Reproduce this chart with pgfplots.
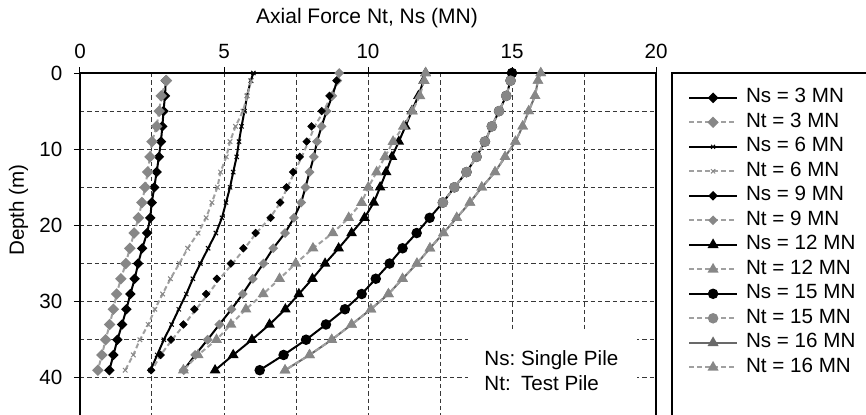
\documentclass[border=0pt]{standalone}
\usepackage{fontspec}
\setmainfont{Liberation Sans}
\usepackage{pgfplots}
\pgfplotsset{compat=1.18}
\definecolor{mkgray}{RGB}{135,135,135}
\definecolor{lngray}{RGB}{160,160,160}
\definecolor{dkgray}{RGB}{105,105,105}
\definecolor{gridc}{RGB}{55,55,55}
\newcommand{\fs}{\fontsize{10.3pt}{12pt}\selectfont}
\begin{document}
\begin{tikzpicture}
\begin{axis}[
  at={(0pt,0pt)}, anchor=north west,
  scale only axis, width=288pt, height=173.355pt,
  xmin=0, xmax=20, ymin=0, ymax=45.5, y dir=reverse,
  xtick={0,5,10,15,20}, ytick={0,10,20,30,40},
  minor xtick={2.5,7.5,12.5,17.5}, minor ytick={5,15,25,35},
  grid=both,
  major grid style={gridc, line width=0.5pt, dash pattern=on 2.2pt off 1.5pt},
  minor grid style={gridc, line width=0.5pt, dash pattern=on 2.2pt off 1.5pt},
  xtick pos=right, ytick pos=left, xticklabel pos=right,
  tick align=outside, major tick length=3pt, minor tick length=0pt,
  tick style={black, line width=0.5pt},
  axis line style={black, line width=0.6pt},
  /pgf/number format/assume math mode=true,
  tick label style={font=\fs},
  xticklabel style={yshift=0.5pt},
  yticklabel style={xshift=-2.3pt},
  clip mode=individual,
  legend cell align=left,
  legend style={draw=none, fill=none, inner sep=0pt, font=\fs,
    at={(axis description cs:1.055,0.965)}, anchor=north west,
    nodes={inner xsep=2.5pt, inner ysep=0pt, text height=8.5pt, text depth=3.75pt},
    /tikz/every odd column/.append style={column sep=1.5pt},
    row sep=0pt},
  legend image code/.code={\draw[mark repeat=2,mark phase=2,#1] plot coordinates {(0pt,0pt)(12pt,0pt)(24pt,0pt)};},
]
% legend images
\addlegendimage{black, line width=1pt, mark=square*, mark size=1.4pt, mark options={rotate=45, solid, fill=black}}
\addlegendentry{Ns = 3 MN}
\addlegendimage{lngray, line width=1pt, dash pattern=on 2.5pt off 1.5pt, mark=square*, mark size=1.5pt, mark options={rotate=45, solid, fill=mkgray, draw=mkgray}}
\addlegendentry{Nt = 3 MN}
\addlegendimage{black, line width=1pt, mark=x, mark size=1.4pt, mark options={solid, line width=0.5pt}}
\addlegendentry{Ns = 6 MN}
\addlegendimage{lngray, line width=1pt, dash pattern=on 2.5pt off 1.5pt, mark=x, mark size=1.5pt, mark options={solid, line width=0.5pt, draw=mkgray}}
\addlegendentry{Nt = 6 MN}
\addlegendimage{black, line width=1pt, mark=square*, mark size=1.2pt, mark options={rotate=45, solid, fill=black}}
\addlegendentry{Ns = 9 MN}
\addlegendimage{lngray, line width=1pt, dash pattern=on 2.5pt off 1.5pt, mark=square*, mark size=1.2pt, mark options={rotate=45, solid, fill=mkgray, draw=mkgray}}
\addlegendentry{Nt = 9 MN}
\addlegendimage{black, line width=1pt, mark=triangle*, mark size=2.2pt, mark options={solid, fill=black}}
\addlegendentry{Ns = 12 MN}
\addlegendimage{lngray, line width=1pt, dash pattern=on 2.5pt off 1.5pt, mark=triangle*, mark size=2.2pt, mark options={solid, fill=mkgray, draw=mkgray}}
\addlegendentry{Nt = 12 MN}
\addlegendimage{black, line width=1pt, mark=*, mark size=2.1pt, mark options={solid, fill=black}}
\addlegendentry{Ns = 15 MN}
\addlegendimage{lngray, line width=1pt, dash pattern=on 2.5pt off 1.5pt, mark=*, mark size=2.1pt, mark options={solid, fill=mkgray, draw=mkgray}}
\addlegendentry{Nt = 15 MN}
\addlegendimage{dkgray, line width=1pt, mark=triangle*, mark size=2.2pt, mark options={solid, fill=dkgray}}
\addlegendentry{Ns = 16 MN}
\addlegendimage{lngray, line width=1pt, dash pattern=on 2.5pt off 1.5pt, mark=triangle*, mark size=2.2pt, mark options={solid, fill=mkgray, draw=mkgray}}
\addlegendentry{Nt = 16 MN}

% Ns = 3
\addplot[forget plot, black, line width=1pt, mark=square*, mark size=1.35pt, mark options={rotate=45, solid, fill=black}] coordinates {
(2.98,1)(2.95,3)(2.90,5)(2.86,7)(2.81,9)(2.74,11)(2.66,13)(2.58,15)(2.49,17)(2.44,19)(2.33,21)(2.16,23)(2.02,25)(1.90,27)(1.75,29)(1.61,31)(1.46,33)(1.30,35)(1.16,37)(1.02,39)};
% Nt = 3
\addplot[forget plot, lngray, line width=1pt, dash pattern=on 2.5pt off 1.5pt, mark=square*, mark size=1.55pt, mark options={rotate=45, solid, fill=mkgray, draw=mkgray}] coordinates {
(3.00,1)(2.82,3)(2.75,5)(2.66,7)(2.50,9)(2.43,11)(2.35,13)(2.26,15)(2.15,17)(2.03,19)(1.88,21)(1.73,23)(1.59,25)(1.42,27)(1.27,29)(1.16,31)(1.03,33)(0.89,35)(0.76,37)(0.62,39)};
% Ns = 6
\addplot[forget plot, black, line width=1pt, mark=x, mark size=1.5pt, mark options={solid, line width=0.5pt}] coordinates {
(6.02,0)(5.93,1)(5.80,3)(5.71,5)(5.61,7)(5.52,9)(5.44,11)(5.32,13)(5.21,15)(5.07,17)(4.93,19)(4.72,21)(4.45,23)(4.18,25)(3.92,27)(3.69,29)(3.43,31)(3.18,33)(2.91,35)(2.68,37)(2.45,39)};
% Nt = 6
\addplot[forget plot, lngray, line width=1pt, dash pattern=on 2.5pt off 1.5pt, mark=x, mark size=1.6pt, mark options={solid, line width=0.5pt, draw=mkgray}] coordinates {
(5.95,1)(5.80,3)(5.66,5)(5.40,7)(5.21,9)(5.08,11)(4.88,13)(4.77,15)(4.58,17)(4.38,19)(4.10,21)(3.74,23)(3.45,25)(3.14,27)(2.87,29)(2.60,31)(2.37,33)(2.08,35)(1.85,37)(1.57,39)};
% 9 MN: gray dashed line
\addplot[forget plot, lngray, line width=1pt, dash pattern=on 2.5pt off 1.5pt] coordinates {
(9.00,0)(8.95,1)(8.72,3)(8.46,5)(8.15,7)(7.93,9)(7.70,11)(7.45,13)(7.20,15)(6.96,17)(6.60,19)(6.12,21)(5.72,23)(5.30,25)(4.85,27)(4.45,29)(4.03,31)(3.62,33)(3.20,35)(2.80,37)(2.50,39)};
% 9 MN: black line with gray diamonds
\addplot[forget plot, black, line width=1pt, mark=square*, mark size=1.25pt, mark options={rotate=45, solid, fill=mkgray, draw=mkgray}] coordinates {
(9.00,0)(8.93,1)(8.76,3)(8.56,5)(8.39,7)(8.23,9)(8.12,11)(7.97,13)(7.83,15)(7.68,17)(7.43,19)(7.12,21)(6.71,23)(6.37,25)(6.00,27)(5.65,29)(5.26,31)(4.84,33)(4.43,35)(4.00,37)(3.60,39)};
% 9 MN: black diamonds
\addplot[forget plot, only marks, black, mark=square*, mark size=1.3pt, mark options={rotate=45, solid, fill=black}] coordinates {
(8.91,1)(8.66,3)(8.39,5)(8.04,7)(7.87,9)(7.63,11)(7.40,13)(7.17,15)(6.95,17)(6.62,19)(6.10,21)(5.67,23)(5.24,25)(4.75,27)(4.38,29)(3.97,31)(3.59,33)(3.16,35)(2.80,37)(2.47,39)};
% Ns = 12
\addplot[forget plot, black, line width=1pt, mark=triangle*, mark size=2.1pt, mark options={solid, fill=black}] coordinates {
(12.00,0)(11.93,1)(11.75,3)(11.52,5)(11.30,7)(11.07,9)(10.83,11)(10.63,13)(10.42,15)(10.20,17)(9.88,19)(9.43,21)(8.98,23)(8.51,25)(8.07,27)(7.60,29)(7.13,31)(6.58,33)(5.97,35)(5.32,37)(4.69,39)};
% Nt = 12
\addplot[forget plot, lngray, line width=1pt, dash pattern=on 2.5pt off 1.5pt, mark=triangle*, mark size=2.2pt, mark options={solid, fill=mkgray, draw=mkgray}] coordinates {
(12.00,0)(11.95,1)(11.80,3)(11.54,5)(11.23,7)(10.87,9)(10.59,11)(10.30,13)(10.01,15)(9.78,17)(9.33,19)(8.78,21)(8.09,23)(7.49,25)(6.93,27)(6.36,29)(5.76,31)(5.24,33)(4.74,35)(4.10,37)(3.59,39)};
% Ns = 15
\addplot[forget plot, black, line width=1pt, mark=*, mark size=2.1pt, mark options={solid, fill=black}] coordinates {
(15.00,0)(14.95,1)(14.80,3)(14.55,5)(14.30,7)(14.06,9)(13.77,11)(13.42,13)(13.00,15)(12.60,17)(12.14,19)(11.69,21)(11.20,23)(10.75,25)(10.27,27)(9.78,29)(9.20,31)(8.54,33)(7.85,35)(7.07,37)(6.24,39)};
% Nt = 15
\addplot[forget plot, lngray, line width=1pt, dash pattern=on 2.5pt off 1.5pt, mark=*, mark size=2.1pt, mark options={solid, fill=mkgray, draw=mkgray}] coordinates {
(14.95,1)(14.80,3)(14.55,5)(14.30,7)(14.06,9)(13.77,11)(13.42,13)(13.00,15)(12.60,17)};
% Ns = 16
\addplot[forget plot, dkgray, line width=1pt, mark=triangle*, mark size=2.1pt, mark options={solid, fill=mkgray, draw=mkgray}] coordinates {
(16.00,0)(15.90,1)(15.80,3)(15.58,5)(15.37,7)(15.12,9)(14.76,11)(14.41,13)(13.95,15)(13.54,17)(13.08,19)(12.62,21)(12.15,23)(11.70,25)(11.20,27)(10.71,29)(10.10,31)(9.43,33)(8.74,35)(7.97,37)(7.12,39)};
% Nt = 16
\addplot[forget plot, lngray, line width=1pt, dash pattern=on 2.5pt off 1.5pt, mark=triangle*, mark size=2.1pt, mark options={solid, fill=mkgray, draw=mkgray}] coordinates {
(16.00,0)(15.90,1)(15.80,3)(15.58,5)(15.37,7)(15.12,9)(14.76,11)(14.41,13)(13.95,15)(13.54,17)(13.08,19)(12.62,21)(12.15,23)(11.70,25)(11.20,27)(10.71,29)(10.10,31)(9.43,33)(8.74,35)(7.97,37)(7.12,39)};
\end{axis}
% white note box
\fill[white] (194pt,-128.5pt) rectangle (278.5pt,-180pt);
\node[anchor=base west, inner sep=0pt, font=\fs] at (202pt,-146pt)
  {\begin{tabular}[t]{@{}l@{\ }l@{}}Ns: & Single Pile\\[0.5pt] Nt: & Test Pile\end{tabular}};
% legend frame
\draw[black, line width=0.6pt] (296pt,0pt) rectangle (420pt,-200pt);
% titles
\node[font=\fontsize{10.5pt}{12pt}\selectfont] at (143.5pt,27.5pt) {Axial Force Nt, Ns (MN)};
\node[rotate=90, font=\fs] at (-30.75pt,-68.5pt) {Depth (m)};
\pgfresetboundingbox
\path[use as bounding box] (-40pt,-170.5pt) rectangle (393pt,36.5pt);
\end{tikzpicture}
\end{document}
